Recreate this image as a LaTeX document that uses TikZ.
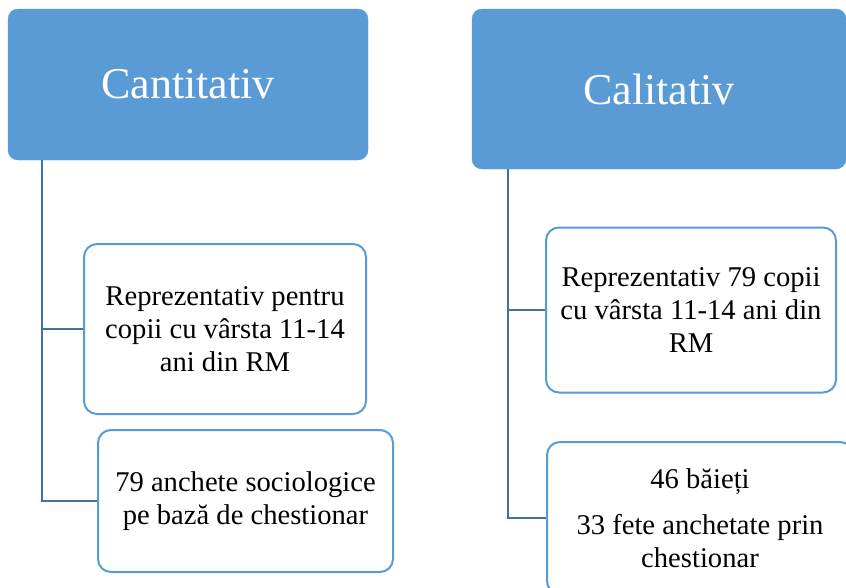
\documentclass[tikz,border=0pt]{standalone}
\usepackage{fontspec}
\setmainfont{Liberation Serif}
\definecolor{headblue}{RGB}{91,155,213}
\definecolor{lineblue}{RGB}{65,113,156}

\begin{document}
\begin{tikzpicture}[x=1pt, y=-1pt,
		head/.style={rectangle, rounded corners=10pt, fill=headblue, draw=headblue, text=white, font=\fontsize{44}{50}\selectfont, inner sep=0pt},
		item/.style={rectangle, rounded corners=13pt, fill=white, draw=headblue, line width=2pt, align=center, font=\fontsize{28.6}{33}\selectfont, inner sep=0pt},
		link/.style={draw=lineblue, line width=2pt}]
		\useasboundingbox (0,0) rectangle (846,587);
		
		%Headers
		\node[head, minimum width=360pt, minimum height=151pt] (cant) at (188,84.5) {Cantitativ};
		\node[head, minimum width=374pt, minimum height=160pt] (cali) at (659,89) {Calitativ};
		
		%Boxes
		\node[item, minimum width=282pt, minimum height=170pt] (repcant) at (225,329) {Reprezentativ pentru\\copii cu vârsta 11-14\\ani din RM};
		\node[item, minimum width=295pt, minimum height=142pt] (anch) at (245.5,501) {79 anchete sociologice\\pe bază de chestionar};
		\node[item, minimum width=290pt, minimum height=165pt] (repcali) at (691,310) {Reprezentativ 79 copii\\cu vârsta 11-14 ani din\\RM};
		\node[item, minimum width=306pt, minimum height=152pt] (sex) at (700,518) {46 băieți\\[13pt]33 fete anchetate prin\\chestionar};
		
		%Links
		\coordinate (ltop) at ([xshift=34pt]cant.south west);
		\coordinate (rtop) at ([xshift=36pt]cali.south west);
		\draw[link] (ltop) |- (anch.west);
		\draw[link] (ltop |- repcant.west) -- (repcant.west);
		\draw[link] (rtop) |- (sex.west);
		\draw[link] (rtop |- repcali.west) -- (repcali.west);
	\end{tikzpicture}
\end{document}
